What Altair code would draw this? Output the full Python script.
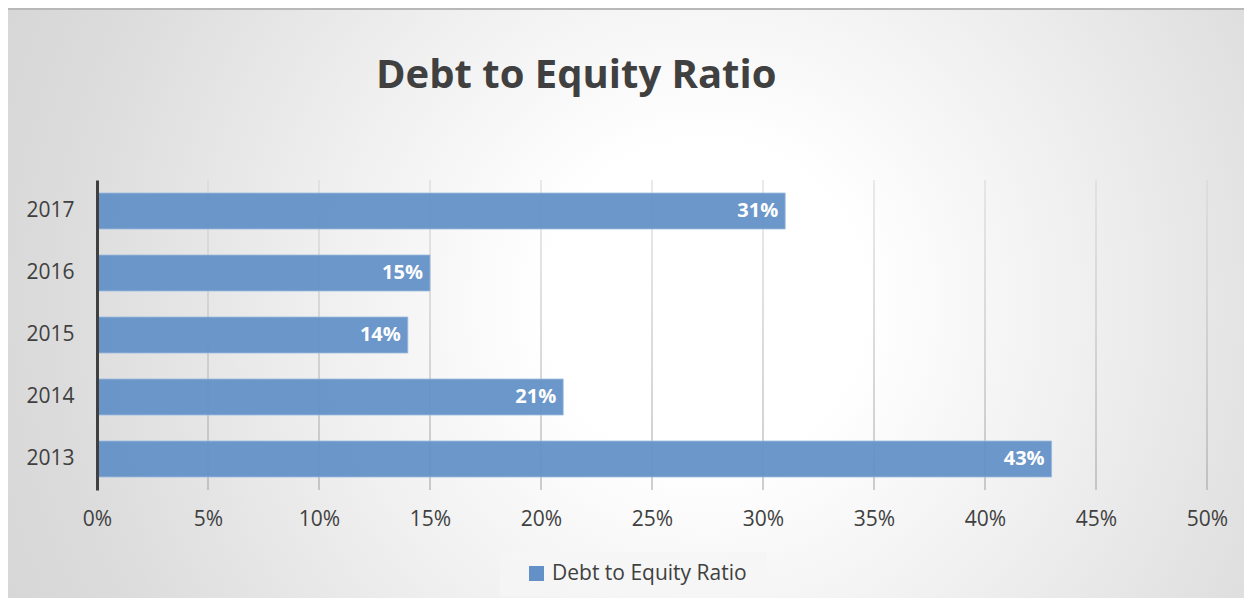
import altair as alt
import pandas as pd

# ---- data ----
years = ["2013", "2014", "2015", "2016", "2017"]
ratios = [0.43, 0.21, 0.14, 0.15, 0.31]
value_labels = ["43%", "21%", "14%", "15%", "31%"]
series_name = "Debt to Equity Ratio"
chart_title = "Debt to Equity Ratio"
tick_values = [0.0, 0.05, 0.10, 0.15, 0.20, 0.25, 0.30, 0.35, 0.40, 0.45, 0.50]
grid_values = [0.05, 0.10, 0.15, 0.20, 0.25, 0.30, 0.35, 0.40, 0.45, 0.50]

W, H = 1110, 310
PAD = {"left": 89, "top": 172, "right": 37, "bottom": 108}
FONT = "Open Sans"
TXT = "#404040"
BAR = "#6391c7"

df = pd.DataFrame({"year": years, "ratio": ratios, "label": value_labels,
                   "series": [series_name] * len(years)})
grid_df = pd.DataFrame({"v": grid_values})
one = pd.DataFrame({"title": [chart_title]})

x_scale = alt.Scale(domain=[0, 0.5], nice=False, zero=True)
x_axis = alt.Axis(values=tick_values, format=".0%", domain=False, ticks=False, grid=False,
                  labelFontSize=21, labelFont=FONT, labelColor=TXT, labelPadding=18,
                  labelFlush=False, labelOverlap=False, title=None, zindex=1)
y_enc = alt.Y("year:N", sort=years[::-1],
              scale=alt.Scale(paddingInner=0.42, paddingOuter=0.21),
              axis=alt.Axis(domainColor=TXT, domainWidth=3, ticks=False, grid=False,
                            labelPadding=23, labelFontSize=21, labelFont=FONT,
                            labelColor=TXT, title=None, zindex=1))

bg_grad = alt.RadialGradient(
    gradient="radial", x1=0.544, y1=0.5, r1=0, x2=0.544, y2=0.5, r2=0.6,
    stops=[alt.GradientStop(offset=0, color="#ffffff"),
           alt.GradientStop(offset=0.15, color="#ffffff"),
           alt.GradientStop(offset=0.35, color="#f0f0f0"),
           alt.GradientStop(offset=0.6, color="#dcdcdc"),
           alt.GradientStop(offset=0.9, color="#cdcdcd"),
           alt.GradientStop(offset=1, color="#c0c0c0")])

background = alt.Chart(one).mark_rect(fill=bg_grad).encode(
    x=alt.value(-PAD["left"]), x2=alt.value(W + PAD["right"]),
    y=alt.value(-PAD["top"] - 600), y2=alt.value(H + PAD["bottom"] + 600))

top_border = alt.Chart(one).mark_rule(stroke="#b8b8b8", strokeWidth=2).encode(
    x=alt.value(-PAD["left"]), x2=alt.value(W + PAD["right"]),
    y=alt.value(-PAD["top"] + 1))

title_text = alt.Chart(one).mark_text(align="left", baseline="alphabetic", fontSize=40,
                                      font=FONT, fontWeight="bold", color=TXT).encode(
    x=alt.value(279), y=alt.value(-92), text="title:N")

grid_grad = alt.LinearGradient(
    gradient="linear", x1=0, y1=0, x2=0, y2=1,
    stops=[alt.GradientStop(offset=0, color="#d6d6d6"),
           alt.GradientStop(offset=1, color="#9e9e9e")])

gridlines = alt.Chart(grid_df).mark_rect(fill=grid_grad, xOffset=-0.5, x2Offset=0.5).encode(
    x=alt.X("v:Q", scale=x_scale, axis=x_axis),
    x2="v",
    y=alt.value(0), y2=alt.value(H))

legend_box = alt.Chart(one).mark_rect(fill="#f6f6f6", opacity=0.75).encode(
    x=alt.value(403), x2=alt.value(670), y=alt.value(372), y2=alt.value(416))

bars = alt.Chart(df).mark_bar(fillOpacity=0.94, stroke="#9bb9e0", strokeWidth=1,
                              strokeOpacity=0.8).encode(
    y=y_enc,
    x=alt.X("ratio:Q", scale=x_scale, axis=x_axis),
    color=alt.Color("series:N", scale=alt.Scale(range=[BAR]),
                    legend=alt.Legend(orient="none", legendX=429, legendY=383, title=None,
                                      symbolType="square", symbolSize=225,
                                      symbolStrokeWidth=0, labelFontSize=21,
                                      labelFont=FONT, labelColor=TXT, labelOffset=5,
                                      labelLimit=500, padding=0)))

texts = alt.Chart(df).mark_text(align="right", baseline="middle", dx=-7, color="white",
                                fontWeight="bold", fontSize=20, font=FONT).encode(
    y=y_enc,
    x=alt.X("ratio:Q", scale=x_scale, axis=x_axis),
    text="label:N")

chart = alt.layer(background, top_border, title_text, gridlines, legend_box, bars, texts).properties(
    width=W, height=H,
    padding=PAD,
    autosize=alt.AutoSizeParams(type="none"),
).configure_view(stroke=None).configure(background="#ffffff")

chart.save("out.html", embed_options={"renderer": "svg", "actions": False})
